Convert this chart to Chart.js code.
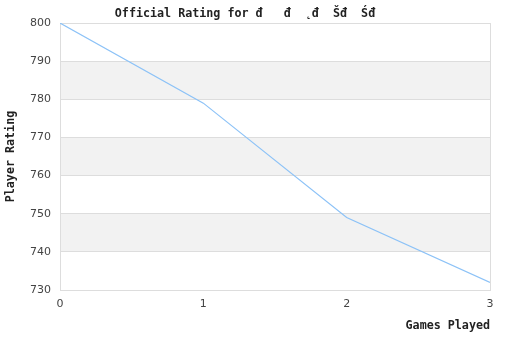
<!DOCTYPE html>
<html>
<head>
<meta charset="utf-8">
<script src="https://cdn.jsdelivr.net/npm/chart.js@4/dist/chart.umd.min.js"></script>
<style>
  body { margin: 0; background: #fff; }
  #wrap { width: 510px; height: 340px; }
</style>
</head>
<body>
<div id="wrap"><canvas id="c"></canvas></div>
<script>
// data
const games = [0, 1, 2, 3];
const ratings = [800, 779, 749, 732];
const yTicks = [730, 740, 750, 760, 770, 780, 790, 800];
const xTicks = [0, 1, 2, 3];

const monoBold = { family: '"DejaVu Sans Mono", monospace', size: 11.7, weight: 'bold' };
const tickFont = { family: '"DejaVu Sans", sans-serif', size: 11 };

// alternate grey bands behind the plot
const bands = {
    id: 'bands',
    beforeDraw(chart) {
        const ctx = chart.ctx, area = chart.chartArea, y = chart.scales.y;
        ctx.save();
        ctx.fillStyle = '#f2f2f2';
        for (let i = 0; i < yTicks.length - 1; i++) {
            if ((yTicks.length - 2 - i) % 2 === 1) {
                const top = y.getPixelForValue(yTicks[i + 1]);
                const bot = y.getPixelForValue(yTicks[i]);
                ctx.fillRect(area.left, top, area.right - area.left, bot - top);
            }
        }
        ctx.restore();
    }
};

new Chart(document.getElementById('c'), {
    type: 'line',
    data: {
        datasets: [{
            data: games.map((g, i) => ({ x: g, y: ratings[i] })),
            borderColor: '#8cc2f7',
            borderWidth: 1.2,
            pointRadius: 0,
            tension: 0,
            fill: false
        }]
    },
    options: {
        responsive: true,
        maintainAspectRatio: false,
        animation: false,
        layout: { padding: { left: 0, right: 20, top: 0, bottom: 0 } },
        plugins: {
            legend: { display: false },
            tooltip: { enabled: false },
            title: {
                display: true,
                text: 'Official Rating for đ   đ  ˛đ  Šđ  Śđ',
                color: '#222',
                font: monoBold,
                padding: { top: 7, bottom: 2 }
            }
        },
        scales: {
            x: {
                type: 'linear',
                min: 0,
                max: 3,
                afterBuildTicks: s => { s.ticks = xTicks.map(v => ({ value: v })); },
                afterFit: s => { s.height = 50; },
                ticks: { color: '#444', font: tickFont, padding: 8 },
                grid: {
                    color: ctx => (ctx.tick && (ctx.tick.value === 0 || ctx.tick.value === 3)) ? '#dddddd' : 'rgba(0,0,0,0)',
                    drawTicks: false
                },
                border: { color: '#dddddd' },
                title: {
                    display: true,
                    text: 'Games Played',
                    align: 'end',
                    color: '#222',
                    font: monoBold,
                    padding: { top: 6, bottom: 7 }
                }
            },
            y: {
                min: 730,
                max: 800,
                afterBuildTicks: s => { s.ticks = yTicks.map(v => ({ value: v })); },
                afterFit: s => { s.width = 60; },
                ticks: { color: '#444', font: tickFont, padding: 9 },
                grid: { color: '#dddddd', drawTicks: false },
                border: { color: '#dddddd' },
                title: {
                    display: true,
                    text: 'Player Rating',
                    color: '#222',
                    font: monoBold,
                    padding: { top: 4, bottom: 8 }
                }
            }
        }
    },
    plugins: [bands]
});
</script>
</body>
</html>
